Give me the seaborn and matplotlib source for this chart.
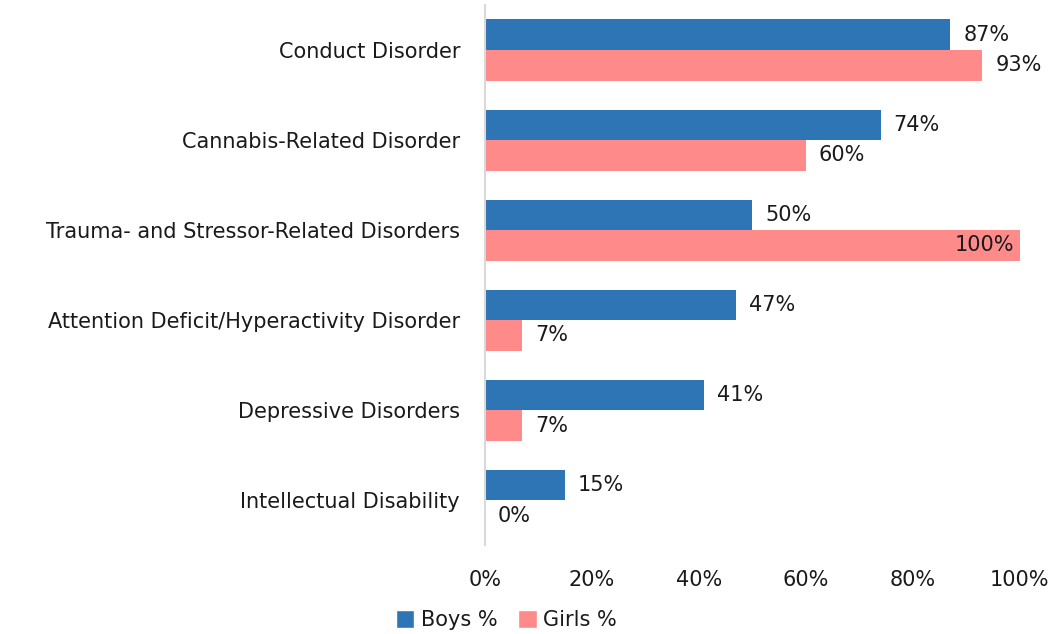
import matplotlib
matplotlib.use("Agg")
import matplotlib.pyplot as plt
import seaborn as sns
import pandas as pd
from matplotlib.patches import Patch

categories = ["Conduct Disorder", "Cannabis-Related Disorder",
              "Trauma- and Stressor-Related Disorders",
              "Attention Deficit/Hyperactivity Disorder",
              "Depressive Disorders", "Intellectual Disability"]
boys = [87, 74, 50, 47, 41, 15]
girls = [93, 60, 100, 7, 7, 0]
series = ["Boys %", "Girls %"]
colors = ["#2E75B6", "#FF8A8A"]

df = pd.DataFrame({
    "category": categories * 2,
    "value": boys + girls,
    "series": [series[0]] * len(categories) + [series[1]] * len(categories),
})

sns.set_theme(style="white")
plt.rcParams["font.family"] = ["DejaVu Sans"]

fig = plt.figure(figsize=(10.59, 6.34), dpi=100)
ax = fig.add_axes([0.458, 0.140, 0.505, 0.852])
sns.barplot(data=df, y="category", x="value", hue="series", order=categories,
            hue_order=series, palette=colors, width=0.68, orient="h",
            ax=ax, legend=False, saturation=1, linewidth=0)

fs = 15
tc = "#1a1a1a"
for cont, vals in zip(ax.containers, [boys, girls]):
    for bar, v in zip(cont, vals):
        yc = bar.get_y() + bar.get_height() / 2
        if v >= 100:
            ax.text(v - 1, yc, f"{v}%", ha="right", va="center", fontsize=fs, color=tc)
        else:
            ax.text(v + 2.4, yc, f"{v}%", ha="left", va="center", fontsize=fs, color=tc)

ax.set_xlim(0, 100)
ax.set_ylim(5.5, -0.5)
ax.set_xticks([0, 20, 40, 60, 80, 100])
ax.set_xticklabels([f"{t}%" for t in [0, 20, 40, 60, 80, 100]], fontsize=fs, color=tc)
ax.tick_params(axis="y", labelsize=fs, colors=tc, length=0, pad=18)
ax.tick_params(axis="x", length=0, pad=18)
ax.set_xlabel("")
ax.set_ylabel("")
for s in ["top", "right", "bottom"]:
    ax.spines[s].set_visible(False)
ax.spines["left"].set_color("#D9D9D9")
ax.spines["left"].set_linewidth(1.5)

handles = [Patch(facecolor=c, label=s) for c, s in zip(colors, series)]
fig.legend(handles=handles, loc="center", bbox_to_anchor=(0.478, 0.022), ncol=2,
           frameon=False, fontsize=fs, handlelength=0.9, handleheight=0.9,
           handletextpad=0.3, columnspacing=1.0, labelcolor=tc)

fig.savefig("out.png", dpi=100)
